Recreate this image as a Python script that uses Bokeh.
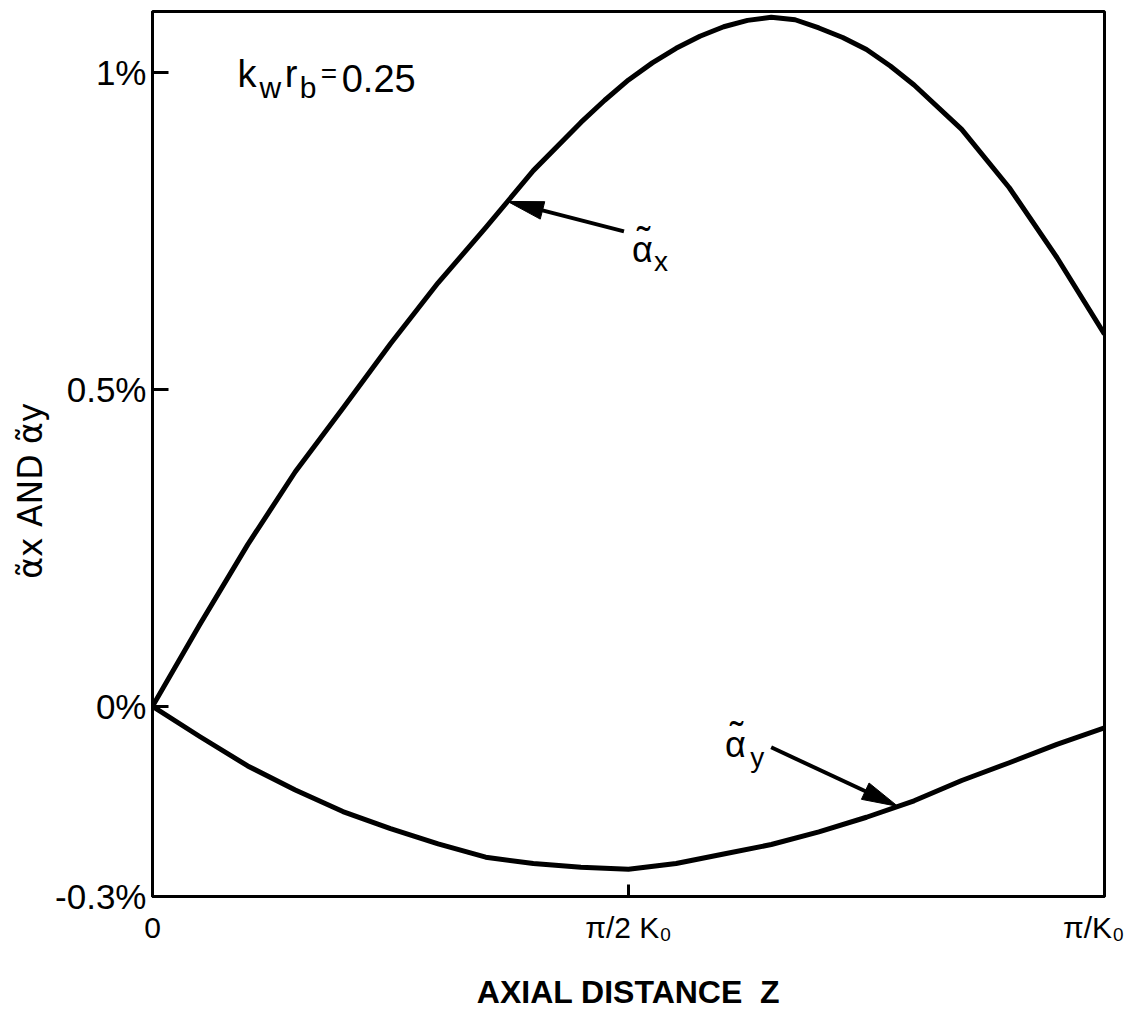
import math
import numpy as np
from bokeh.plotting import figure
from bokeh.models import Range1d, FixedTicker, Label
from bokeh.embed import file_html
from bokeh.resources import INLINE

# ---- data (z in units of pi/k0, values in %) ----
zx = [0.0, 0.05, 0.10, 0.15, 0.20, 0.25, 0.30, 0.35, 0.40, 0.45, 0.475, 0.50, 0.525,
      0.55, 0.575, 0.60, 0.625, 0.65, 0.675, 0.70, 0.725, 0.75, 0.775, 0.80, 0.85, 0.90, 0.95, 1.00]
alpha_x = [0.0, 0.13, 0.255, 0.37, 0.47, 0.572, 0.668, 0.755, 0.845, 0.921, 0.956, 0.988, 1.015,
           1.038, 1.057, 1.072, 1.082, 1.087, 1.083, 1.070, 1.055, 1.036, 1.010, 0.980, 0.910, 0.818, 0.708, 0.587]
zy = [0.0, 0.05, 0.10, 0.15, 0.20, 0.25, 0.30, 0.35, 0.40, 0.45, 0.50,
      0.55, 0.60, 0.65, 0.70, 0.75, 0.80, 0.85, 0.90, 0.95, 1.00]
alpha_y = [0.0, -0.048, -0.094, -0.132, -0.166, -0.193, -0.217, -0.238, -0.248, -0.254, -0.257,
           -0.248, -0.233, -0.218, -0.198, -0.175, -0.149, -0.117, -0.089, -0.060, -0.034]
x_ticks = [0.0, 0.5, 1.0]
x_tick_labels = ["0", "π/2 K₀", "π/K₀"]
y_ticks = [-0.3, 0.0, 0.5, 1.0]
y_tick_labels = ["-0.3%", "0%", "0.5%", "1%"]

FONT = "Liberation Sans"
NBSP = "\u00a0"

p = figure(width=1124, height=1013, output_backend="svg", toolbar_location=None,
           x_range=Range1d(0, 1), y_range=Range1d(-0.3, 1.096),
           min_border_left=152, min_border_right=20, min_border_top=11, min_border_bottom=117)
p.grid.visible = False
p.outline_line_color = "black"
p.outline_line_width = 3
p.background_fill_color = "white"

for ax in (p.xaxis[0], p.yaxis[0]):
    ax.axis_line_width = 3
    ax.axis_line_color = "black"
    ax.major_tick_out = 0
    ax.minor_tick_line_color = None
    ax.major_tick_line_width = 3
    ax.major_label_text_font = FONT
    ax.major_label_text_color = "black"

p.xaxis.ticker = FixedTicker(ticks=x_ticks)
p.xaxis.major_label_overrides = {t: l for t, l in zip(x_ticks, x_tick_labels)}
p.xaxis.major_label_text_font_size = "30px"
p.xaxis.major_tick_in = 12
p.xaxis.major_label_standoff = 14
p.xaxis.axis_label = "AXIAL DISTANCE" + NBSP + NBSP + "Z"
p.xaxis.axis_label_text_font = FONT
p.xaxis.axis_label_text_font_style = "bold"
p.xaxis.axis_label_text_font_size = "32px"
p.xaxis.axis_label_text_color = "black"
p.xaxis.axis_label_standoff = 27

p.yaxis.ticker = FixedTicker(ticks=y_ticks)
p.yaxis.major_label_overrides = {t: l for t, l in zip(y_ticks, y_tick_labels)}
p.yaxis.major_label_text_font_size = "35px"
p.yaxis.major_tick_in = 16
p.yaxis.major_label_standoff = 6
# y-axis title; trailing no-break spaces shift it toward the bottom as in the original
p.yaxis.axis_label = "α̃x AND α̃y" + NBSP * 7
p.yaxis.axis_label_text_font = "DejaVu Sans"
p.yaxis.axis_label_text_font_size = "33px"
p.yaxis.axis_label_text_font_style = "normal"
p.yaxis.axis_label_text_color = "black"
p.yaxis.axis_label_standoff = 2

p.line(zx, alpha_x, line_width=5, line_color="black", line_join="round")
p.line(zy, alpha_y, line_width=5, line_color="black", line_join="round")

# --- annotation layout helpers (reference pixels -> data coords) ---
def dx(px):
    return (px - 152) / 951.0

def dy(py):
    return (707 - py) / 634.0

def lab(text, px, py, size, angle=0.0, style="normal"):
    p.add_layout(Label(x=dx(px), y=dy(py), text=text, text_font=FONT,
                       text_font_size=f"{size}px", text_color="black",
                       text_font_style=style, angle=angle, text_align="left",
                       text_baseline="alphabetic"))

def arrow(tip_frac, zs, curve, start_px, length=36, half=9):
    tx = 152 + 951 * tip_frac
    ty = 707 - 634 * float(np.interp(tip_frac, zs, curve))
    sx, sy = start_px
    ux, uy = tx - sx, ty - sy
    n = math.hypot(ux, uy)
    ux, uy = ux / n, uy / n
    bx, by = tx - length * ux, ty - length * uy
    nx, ny = -uy, ux
    p.segment(x0=[dx(sx)], y0=[dy(sy)], x1=[dx(bx + 2 * ux)], y1=[dy(by + 2 * uy)],
              line_width=4, line_color="black")
    xs = [dx(tx), dx(bx + half * nx), dx(bx - half * nx)]
    ys = [dy(ty), dy(by + half * ny), dy(by - half * ny)]
    p.patch(xs, ys, fill_color="black", line_color="black", line_width=1)

# parameter label k_w r_b = 0.25
lab("k", 237, 75, 38)
lab("w", 259, 88, 30)
lab("r", 284, 75, 38)
lab("b", 299, 88, 30)
lab("=", 320, 74, 28)
lab("0.25", 341, 79, 38)

# curve labels (alpha with tilde, subscript)
lab("α", 631, 250, 36)
lab("˜", 636, 242, 40)
lab("x", 653, 262, 28)
lab("α", 724, 745, 36)
lab("˜", 729, 737, 40)
lab("y", 749, 758, 28)

arrow(0.373, zx, alpha_x, (623, 232))
arrow(0.783, zy, alpha_y, (770, 748))

open("out.html", "w").write(file_html(p, INLINE))
